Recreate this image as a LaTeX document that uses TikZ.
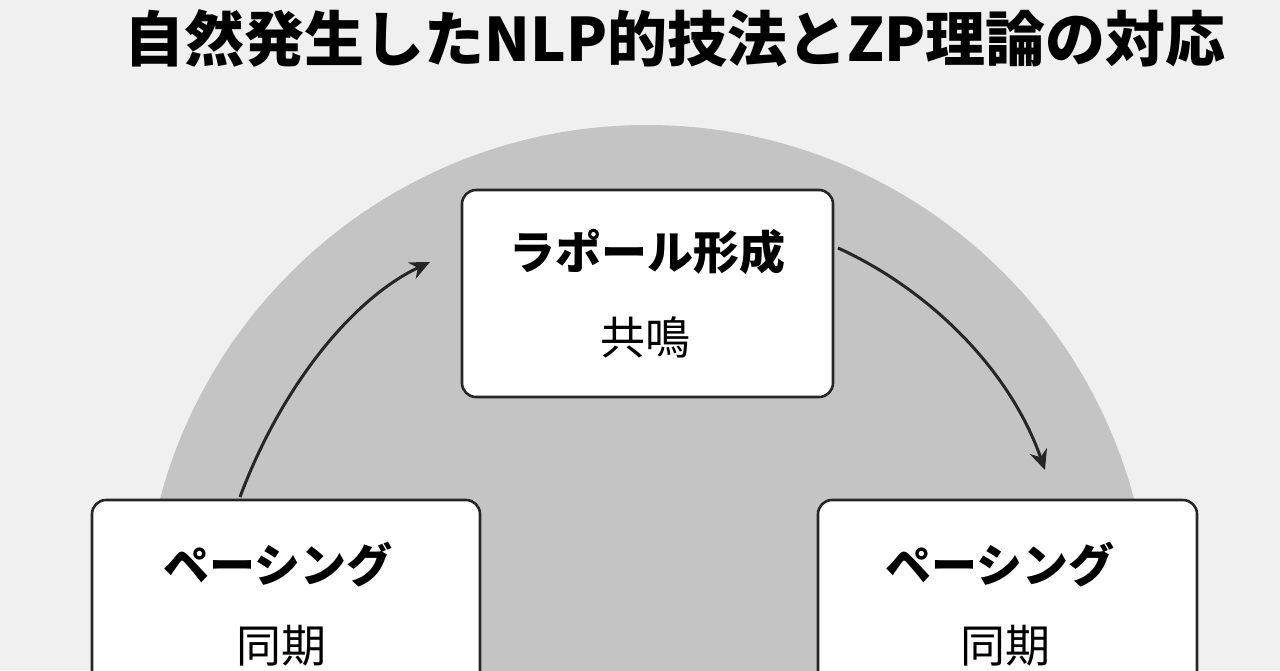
\documentclass[tikz,border=0pt]{standalone}
\usepackage{fontspec}
\newfontfamily\cjk{Noto Sans CJK JP}
\usetikzlibrary{arrows.meta}
\begin{document}
\begin{tikzpicture}[x=1pt,y=-1pt,
  card/.style={draw=black!85,line width=2.6pt,fill=white,rounded corners=14pt},
  flow/.style={draw=black!85,line width=3pt,-{Stealth[length=20pt,width=18pt]}},
  big/.style={font=\cjk\bfseries\fontsize{46}{52}\selectfont},
  small/.style={font=\cjk\fontsize{45}{52}\selectfont}]
\useasboundingbox (0,0) rectangle (1280,670);
\fill[black!6] (0,0) rectangle (1280,670);
\begin{scope}
\clip (0,0) rectangle (1280,670);
\fill[black!23] (647,629) circle[radius=504];
\end{scope}
\node[font=\cjk\bfseries\fontsize{60}{66}\selectfont,anchor=center] (title) at (675,38) {自然発生したNLP的技法とZP理論の対応};
\draw[card] (462,190) rectangle (833,397);
\node[big] (t1) at (647,252) {ラポール形成};
\node[small] (t2) at (645,337) {共鳴};
\draw[card] (92,500) rectangle (480,700);
\node[big] (l1) at (278,565) {ペーシング};
\node[small] (l2) at (281,646) {同期};
\draw[card] (818,500) rectangle (1197,700);
\node[big] (r1) at (1000,565) {ペーシング};
\node[small] (r2) at (1005,646) {同期};
\coordinate (a1) at (240,497);
\coordinate (a2) at (430,262);
\coordinate (b1) at (838,248);
\coordinate (b2) at (1045,470);
\draw[flow] (a1) .. controls (280,390) and (350,300) .. (a2);
\draw[flow] (b1) .. controls (930,290) and (1010,370) .. (b2);
\end{tikzpicture}
\end{document}
